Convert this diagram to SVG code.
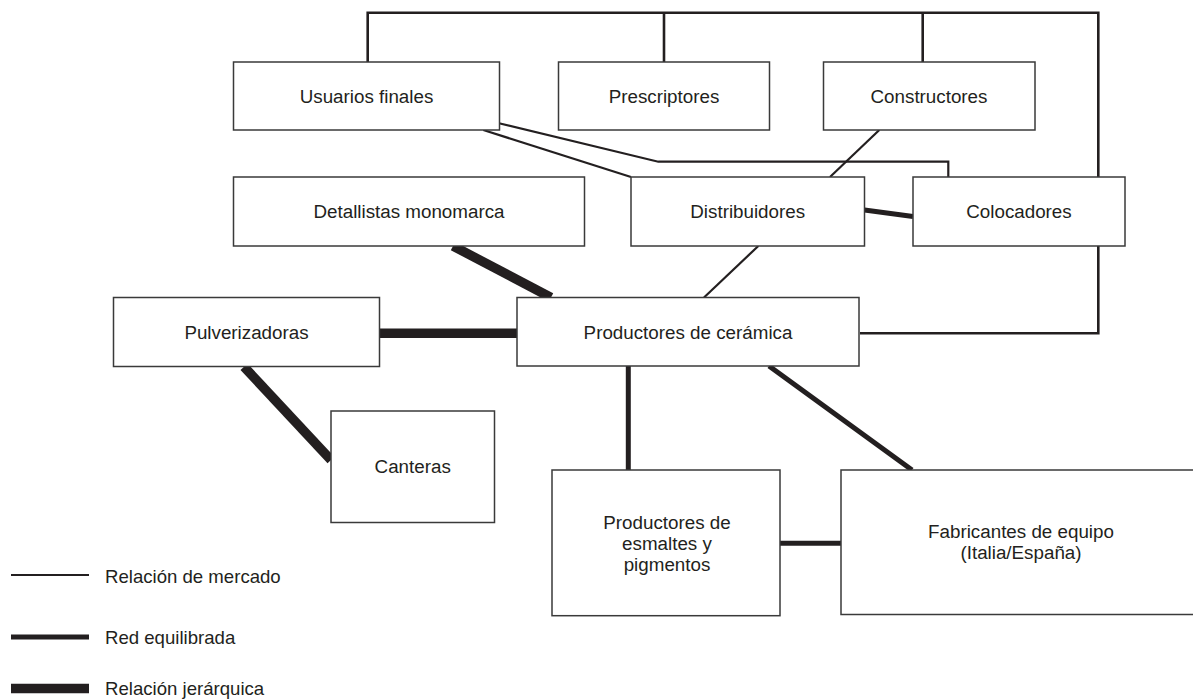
<svg xmlns="http://www.w3.org/2000/svg" width="1193" height="700" viewBox="0 0 1193 700">
<style>
.box{fill:#fff;stroke:#3a3a3a;stroke-width:1.5}
.t{font-family:"Liberation Sans",Arial,sans-serif;font-size:18.8px;fill:#231f20;text-anchor:middle}
.lt{font-family:"Liberation Sans",Arial,sans-serif;font-size:18.6px;fill:#231f20}
.mk{fill:none;stroke:#231f20;stroke-width:2.2;stroke-linejoin:miter}
.fr{fill:none;stroke:#231f20;stroke-width:2.6;stroke-linejoin:miter}
.eq{fill:none;stroke:#231f20;stroke-width:5}
.hi{fill:none;stroke:#231f20;stroke-width:9.5}
</style>
<rect width="1193" height="700" fill="#fff"/>
<g id="connectors">
<polyline class="fr" points="367.7,62 367.7,12.7 1098.3,12.7 1098.3,177"/>
<line class="fr" x1="664" y1="12.7" x2="664" y2="62"/>
<line class="fr" x1="922.7" y1="12.7" x2="922.7" y2="62"/>
<polyline class="fr" points="1098.3,246 1098.3,333.3 860,333.3"/>
<polyline class="mk" points="499,123.3 658.3,161.7 948.3,161.7 948.3,177"/>
<line class="mk" x1="483.3" y1="130" x2="631" y2="177"/>
<line class="mk" x1="879.3" y1="130" x2="830" y2="177"/>
<line class="mk" x1="758.3" y1="246" x2="704" y2="297.5"/>
<line class="eq" x1="864.5" y1="210" x2="913" y2="216.5"/>
<line class="hi" x1="453" y1="246" x2="551" y2="297.5"/>
<line class="hi" x1="379.5" y1="333.3" x2="517" y2="333.3"/>
<line class="hi" x1="244" y1="366.7" x2="331" y2="460"/>
<line class="eq" x1="628.3" y1="366" x2="628.3" y2="470"/>
<line class="eq" x1="769" y1="366" x2="912" y2="470"/>
<line class="eq" x1="780" y1="543.3" x2="841" y2="543.3"/>
</g>
<g id="usuarios"><rect class="box" x="233.5" y="62" width="266" height="68"/><text class="t" x="366.5" y="102.6">Usuarios finales</text></g>
<g id="prescriptores"><rect class="box" x="558.5" y="62" width="211" height="68"/><text class="t" x="664" y="102.6">Prescriptores</text></g>
<g id="constructores"><rect class="box" x="823.5" y="62" width="211.5" height="68"/><text class="t" x="929" y="102.6">Constructores</text></g>
<g id="detallistas"><rect class="box" x="233.5" y="177" width="351" height="69"/><text class="t" x="409" y="218">Detallistas monomarca</text></g>
<g id="distribuidores"><rect class="box" x="631" y="177" width="233.5" height="69"/><text class="t" x="747.7" y="218">Distribuidores</text></g>
<g id="colocadores"><rect class="box" x="913" y="177" width="212" height="69"/><text class="t" x="1019" y="218">Colocadores</text></g>
<g id="pulverizadoras"><rect class="box" x="113.5" y="297.5" width="266" height="69"/><text class="t" x="246.5" y="338.5">Pulverizadoras</text></g>
<g id="productores"><rect class="box" x="517" y="297.5" width="342" height="68.5"/><text class="t" x="688" y="338.5">Productores de cerámica</text></g>
<g id="canteras"><rect class="box" x="331" y="411" width="163.5" height="111.5"/><text class="t" x="412.7" y="473.3">Canteras</text></g>
<g id="esmaltes"><rect class="box" x="552" y="470" width="228" height="145.7"/>
<text class="t" x="667" y="528.5">Productores de</text>
<text class="t" x="667" y="549.5">esmaltes y</text>
<text class="t" x="667" y="570.5">pigmentos</text></g>
<g id="fabricantes"><rect class="box" x="841" y="470" width="360" height="144.5"/>
<text class="t" x="1021" y="538">Fabricantes de equipo</text>
<text class="t" x="1021" y="558.5">(Italia/España)</text></g>
<g id="legend">
<line x1="11" y1="575" x2="89" y2="575" stroke="#231f20" stroke-width="2.2"/>
<line x1="11" y1="637" x2="89" y2="637" stroke="#231f20" stroke-width="5"/>
<line x1="11" y1="688.5" x2="89" y2="688.5" stroke="#231f20" stroke-width="9.5"/>
<text class="lt" x="105" y="582.5">Relación de mercado</text>
<text class="lt" x="105" y="643.5">Red equilibrada</text>
<text class="lt" x="105" y="695">Relación jerárquica</text>
</g>
</svg>
